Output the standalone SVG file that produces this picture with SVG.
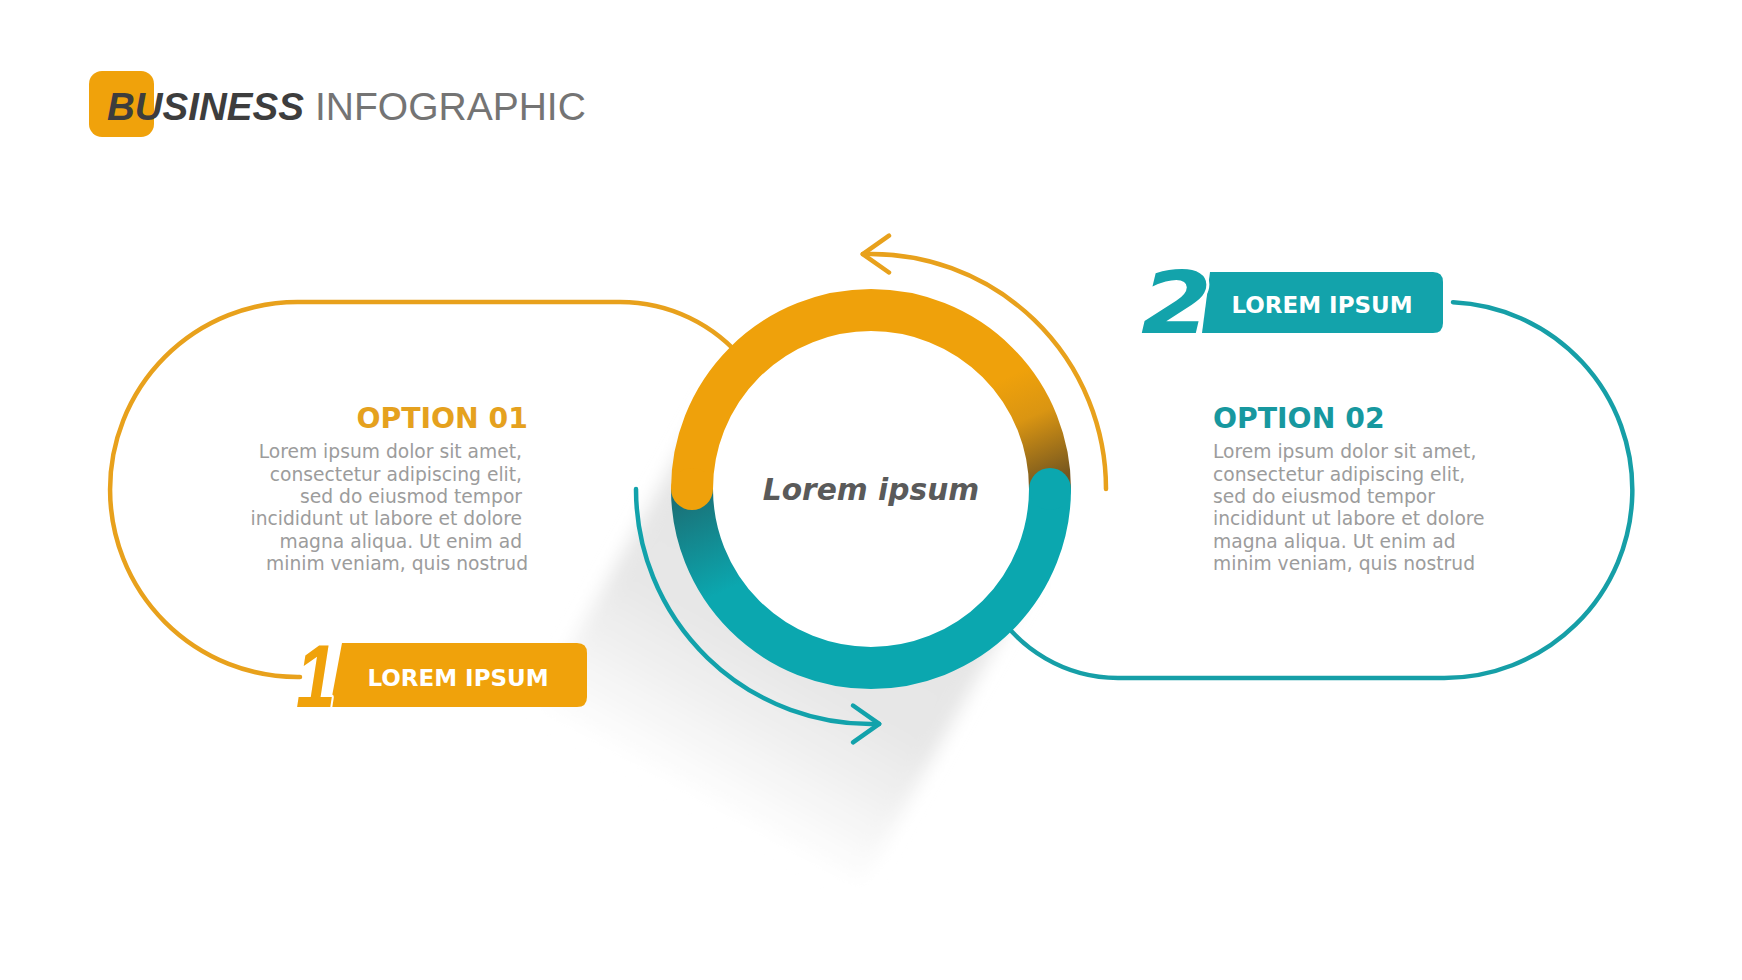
<svg xmlns="http://www.w3.org/2000/svg" width="1742" height="980" viewBox="0 0 1742 980">
<defs>
<style>
.loopO{fill:none;stroke:#E8A11C;stroke-width:4.5;stroke-linecap:round}
.loopT{fill:none;stroke:#169FA7;stroke-width:4.5;stroke-linecap:round}
.arrO{fill:none;stroke:#E8A11C;stroke-width:4.5;stroke-linecap:round;stroke-linejoin:round}
.arrT{fill:none;stroke:#12A2AB;stroke-width:4.5;stroke-linecap:round;stroke-linejoin:round}
.body{font-family:"DejaVu Sans","Liberation Sans",sans-serif;font-size:18.7px;fill:#9C9C9C}
.opt{font-family:"DejaVu Sans","Liberation Sans",sans-serif;font-weight:bold;font-size:28.3px}
.badge{font-family:"DejaVu Sans","Liberation Sans",sans-serif;font-weight:bold;font-size:23px;fill:#FFFFFF;text-anchor:middle}
.num{font-weight:bold;font-style:italic;stroke:#FFFFFF;stroke-width:5;paint-order:stroke;stroke-linejoin:round}
</style>
<linearGradient id="shadowG" gradientUnits="userSpaceOnUse" x1="871" y1="489" x2="695" y2="803">
<stop offset="0" stop-color="#e4e4e4"/>
<stop offset="0.55" stop-color="#e7e7e7"/>
<stop offset="1" stop-color="#ffffff"/>
</linearGradient>
<filter id="blur" x="-20%" y="-20%" width="140%" height="140%"><feGaussianBlur stdDeviation="9"/></filter>
<linearGradient id="orangeG" gradientUnits="userSpaceOnUse" x1="1000" y1="380" x2="1045" y2="485">
<stop offset="0" stop-color="#EFA10B"/>
<stop offset="0.4" stop-color="#DA9512"/>
<stop offset="1" stop-color="#74561F"/>
</linearGradient>
<linearGradient id="tealG" gradientUnits="userSpaceOnUse" x1="690" y1="489" x2="734" y2="587">
<stop offset="0" stop-color="#1B6E74"/>
<stop offset="1" stop-color="#0BA7AF"/>
</linearGradient>
</defs>
<rect width="1742" height="980" fill="#FFFFFF"/>

<g id="title">
<rect x="89" y="71" width="65" height="66" rx="13" fill="#F0A20B"/>
<text x="107" y="120" font-family="Liberation Sans, Arial, sans-serif" font-size="38.5" font-weight="bold" font-style="italic" fill="#3D3D3D">BUSINESS</text>
<text x="315" y="120" font-family="Liberation Sans, Arial, sans-serif" font-size="39" fill="#747474">INFOGRAPHIC</text>
</g>

<g id="shadow">
<path d="M 709.5 398.5 L 1032.5 579.5 L 861 885 L 538 704 Z" fill="url(#shadowG)" filter="url(#blur)"/>
</g>

<g id="connectors">
<path class="loopO" d="M 300 677 L 297.5 677 A 187.5 187.5 0 0 1 297.5 302 L 620 302 A 160 160 0 0 1 745 362"/>
<path class="loopT" d="M 1453 302.2 A 188 188 0 0 1 1444 678 L 1118 678 A 145 145 0 0 1 992.4 605"/>
<path class="arrO" d="M 1106 489 A 235 235 0 0 0 862.8 254.1"/>
<path class="arrO" d="M 889 235.7 L 862.8 254.1 L 889 272.5"/>
<path class="arrT" d="M 636 489 A 235 235 0 0 0 879.2 723.9"/>
<path class="arrT" d="M 853 705.5 L 879.2 723.9 L 853 742.3"/>
</g>

<g id="center-ring">
<circle cx="871" cy="489" r="160" fill="#FFFFFF"/>
<path d="M 1050 489 A 179 179 0 0 1 692 489" fill="none" stroke="url(#tealG)" stroke-width="42"/>
<path d="M 692 489 A 179 179 0 0 1 1050 489" fill="none" stroke="url(#orangeG)" stroke-width="42"/>
<circle cx="692" cy="489" r="21" fill="#EFA10B"/>
<circle cx="1050" cy="489" r="21" fill="#0BA7AF"/>
<text x="871" y="500" text-anchor="middle" font-family="DejaVu Sans, Liberation Sans, sans-serif" font-size="29.7" font-weight="bold" font-style="italic" fill="#5A5A5A">Lorem ipsum</text>
</g>

<g id="option-01">
<path d="M 342 643 L 577 643 Q 587 643 587 653 L 587 697 Q 587 707 577 707 L 330 707 Z" fill="#F0A20B"/>
<text class="num" transform="translate(296 707) scale(0.8 1)" x="0" y="0" font-family="Liberation Sans, Arial, sans-serif" font-size="89" fill="#F0A20B">1</text>
<text class="badge" x="458" y="686">LOREM IPSUM</text>
<text class="opt" x="528" y="428" text-anchor="end" fill="#E5A11E">OPTION 01</text>
<text class="body" text-anchor="end">
<tspan x="528" y="458">Lorem ipsum dolor sit amet,</tspan>
<tspan x="528" y="480.5">consectetur adipiscing elit,</tspan>
<tspan x="528" y="503">sed do eiusmod tempor</tspan>
<tspan x="528" y="525">incididunt ut labore et dolore</tspan>
<tspan x="528" y="547.5">magna aliqua. Ut enim ad</tspan>
<tspan x="528" y="570">minim veniam, quis nostrud</tspan>
</text>
</g>

<g id="option-02">
<path d="M 1210 272 L 1433 272 Q 1443 272 1443 282 L 1443 323 Q 1443 333 1433 333 L 1202 333 Z" fill="#13A3AB"/>
<text class="num" transform="translate(1141 333) scale(1.2 1)" x="0" y="0" font-family="DejaVu Sans, Liberation Sans, sans-serif" font-size="85" fill="#13A3AB">2</text>
<text class="badge" x="1322" y="313">LOREM IPSUM</text>
<text class="opt" x="1213" y="428" fill="#17989F">OPTION 02</text>
<text class="body">
<tspan x="1213" y="458">Lorem ipsum dolor sit amet,</tspan>
<tspan x="1213" y="480.5">consectetur adipiscing elit,</tspan>
<tspan x="1213" y="503">sed do eiusmod tempor</tspan>
<tspan x="1213" y="525">incididunt ut labore et dolore</tspan>
<tspan x="1213" y="547.5">magna aliqua. Ut enim ad</tspan>
<tspan x="1213" y="570">minim veniam, quis nostrud</tspan>
</text>
</g>
</svg>
